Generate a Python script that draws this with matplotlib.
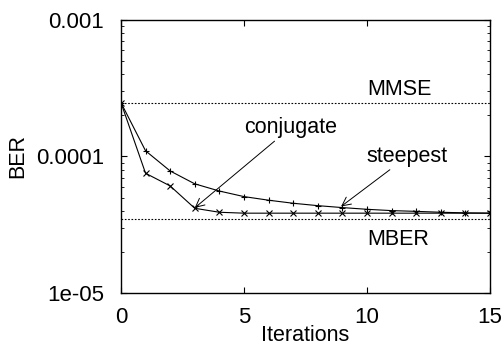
import numpy as np
import matplotlib.pyplot as plt
from matplotlib.ticker import LogLocator, NullFormatter, FixedLocator

plt.rcParams['font.family'] = ['Liberation Sans', 'DejaVu Sans']

iters = np.arange(16)
steepest = [2.48e-4, 1.10e-4, 7.83e-5, 6.3e-5, 5.58e-5, 5.08e-5, 4.78e-5, 4.54e-5,
            4.36e-5, 4.22e-5, 4.10e-5, 4.01e-5, 3.96e-5, 3.90e-5, 3.86e-5, 3.84e-5]
conjugate = [2.48e-4, 7.53e-5, 6.08e-5, 4.17e-5, 3.90e-5, 3.84e-5, 3.84e-5, 3.84e-5,
             3.84e-5, 3.84e-5, 3.84e-5, 3.84e-5, 3.84e-5, 3.84e-5, 3.84e-5, 3.84e-5]
mmse = 2.48e-4
mber = 3.47e-5

fig = plt.figure(figsize=(5.04, 3.45), dpi=100)
ax = fig.add_axes([0.240, 0.151, 0.732, 0.791])

ax.plot(iters, steepest, color='black', lw=0.8, marker='+', ms=5, mew=0.8)
ax.plot(iters, conjugate, color='black', lw=0.8, marker='x', ms=4, mew=0.8)
ax.axhline(mmse, color='black', lw=0.8, ls=(0, (1.5, 1.5)))
ax.axhline(mber, color='black', lw=0.8, ls=(0, (1.5, 1.5)))

ax.set_yscale('log')
ax.set_xlim(0, 15)
ax.set_ylim(1e-5, 1e-3)
ax.set_xticks([0, 5, 10, 15])
ax.yaxis.set_major_locator(FixedLocator([1e-5, 1e-4, 1e-3]))
ax.set_yticklabels(['1e-05', '0.0001', '0.001'])
ax.yaxis.set_minor_locator(LogLocator(base=10, subs=np.arange(2, 10), numticks=20))
ax.yaxis.set_minor_formatter(NullFormatter())
ax.tick_params(which='both', direction='in', top=True, right=True, labelsize=16)
ax.tick_params(which='major', length=4, width=0.8)
ax.tick_params(which='minor', length=2, width=0.6)
ax.tick_params(axis='x', pad=10)
ax.tick_params(axis='y', pad=12)
for s in ax.spines.values():
    s.set_linewidth(1.0)

ax.set_xlabel('Iterations', fontsize=15.5, labelpad=-2)
ax.set_ylabel('BER', fontsize=15.5, labelpad=6)

ax.text(10, 3.07e-4, 'MMSE', fontsize=15.5, va='center', ha='left')
ax.text(10, 2.45e-5, 'MBER', fontsize=15.5, va='center', ha='left')
ax.annotate('conjugate', xy=(3, 4.2e-5), xytext=(5.0, 1.62e-4), fontsize=15.5,
            va='center', ha='left',
            arrowprops=dict(arrowstyle='->', color='black', lw=0.7, shrinkA=0, shrinkB=0))
ax.annotate('steepest', xy=(8.95, 4.3e-5), xytext=(10.0, 1.0e-4), fontsize=15.5,
            va='center', ha='left',
            arrowprops=dict(arrowstyle='->', color='black', lw=0.7, shrinkA=0, shrinkB=0))

fig.savefig('out.png', dpi=100)
